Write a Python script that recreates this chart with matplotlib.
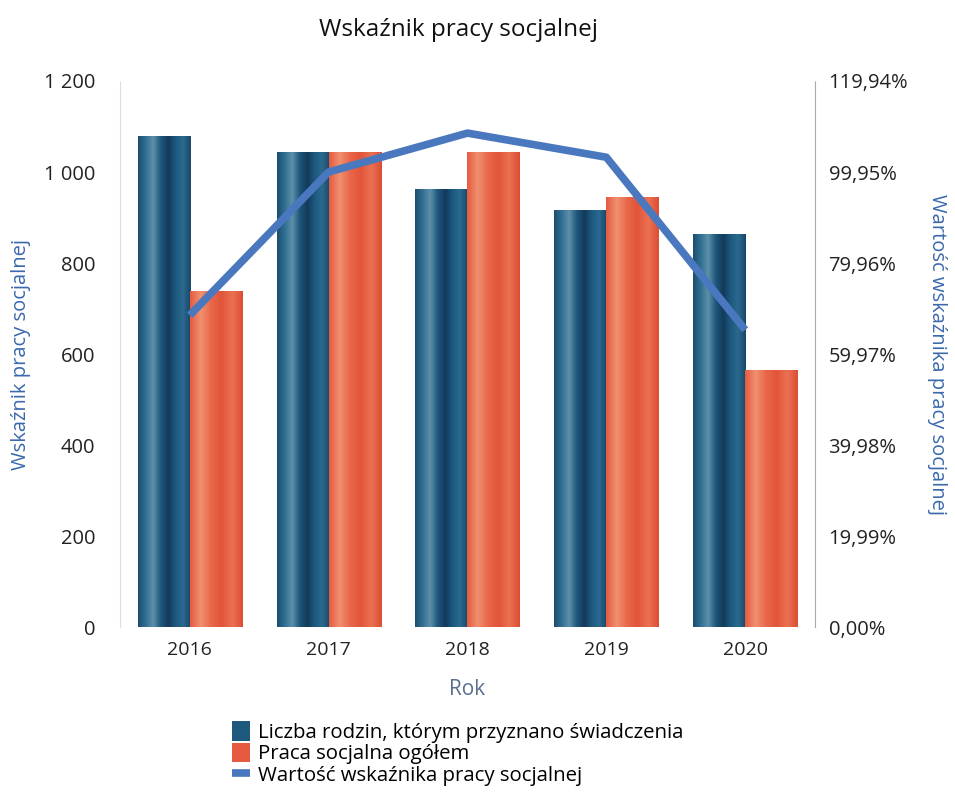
import numpy as np
import matplotlib
matplotlib.use("Agg")
import matplotlib.pyplot as plt
from matplotlib.colors import LinearSegmentedColormap
from matplotlib.ticker import FixedLocator, FuncFormatter

plt.rcParams['font.family'] = ['Open Sans', 'DejaVu Sans']

years = ['2016', '2017', '2018', '2019', '2020']
families = [1077, 1042, 960, 914, 862]
social_work = [738, 1042, 1042, 943, 563]
indicator = [68.5, 99.95, 108.5, 103.2, 65.3]

left_ticks = [0, 200, 400, 600, 800, 1000, 1200]
right_ticks = [0.00, 19.99, 39.98, 59.97, 79.96, 99.95, 119.94]

fig = plt.figure(figsize=(9.55, 7.94), dpi=100)
ax = fig.add_axes([0.126, 0.21, 0.727, 0.688])
ax2 = ax.twinx()

x = np.arange(len(years))
w = 0.375

blue_cmap = LinearSegmentedColormap.from_list('b', ['#1c4d6e', '#2f6f93', '#5f8fa8', '#1f587d', '#123a5c', '#1d5a80', '#2a6a8e', '#17466a'])
red_cmap = LinearSegmentedColormap.from_list('r', ['#e65a40', '#f0906f', '#e8674a', '#e2553a', '#ea7152', '#dd4d33'])

bars1 = ax.bar(x - w / 2, families, w, color='#1f587d', label='Liczba rodzin, którym przyznano świadczenia', zorder=2)
bars2 = ax.bar(x + w / 2, social_work, w, color='#e65a40', label='Praca socjalna ogółem', zorder=2)

grad = np.linspace(0, 1, 256).reshape(1, -1)
for bars, cmap in ((bars1, blue_cmap), (bars2, red_cmap)):
    for b in bars:
        x0, y0 = b.get_x(), b.get_y()
        ax.imshow(grad, cmap=cmap, aspect='auto', extent=(x0, x0 + b.get_width(), y0, y0 + b.get_height()), zorder=2.5)

ax.set_xlim(-0.5, len(years) - 0.5)
ax.set_ylim(0, 1200)
ax.yaxis.set_major_locator(FixedLocator(left_ticks))
ax.yaxis.set_major_formatter(FuncFormatter(lambda v, p: f"{int(v):,}".replace(',', ' ')))
ax.set_xticks(x)
ax.set_xticklabels(years)

ax2.plot(x, indicator, color='#4a78be', linewidth=5.5, solid_capstyle='butt', label='Wartość wskaźnika pracy socjalnej', zorder=5)
ax2.set_ylim(0, 119.94)
ax2.yaxis.set_major_locator(FixedLocator(right_ticks))
ax2.yaxis.set_major_formatter(FuncFormatter(lambda v, p: f"{v:.2f}%".replace('.', ',')))

for a in (ax, ax2):
    for s in a.spines.values():
        s.set_visible(False)
    a.tick_params(length=0, labelsize=14.5, colors='#222222')
ax.tick_params(axis='x', labelsize=14, pad=10)
ax.tick_params(axis='y', pad=18)
ax2.tick_params(axis='y', pad=10)
ax2.spines['right'].set_visible(True)
ax2.spines['right'].set_color('#aaaaaa')
ax2.spines['right'].set_linestyle((0, (1, 1)))
ax2.spines['right'].set_linewidth(0.8)
ax.spines['left'].set_visible(True)
ax.spines['left'].set_color('#dddddd')
ax.spines['left'].set_linestyle((0, (1, 1)))
ax.spines['left'].set_linewidth(0.8)

ax.set_ylabel('Wskaźnik pracy socjalnej', color='#3a68ad', fontsize=14.5, labelpad=9)
ax2.set_ylabel('Wartość wskaźnika pracy socjalnej', color='#3a68ad', fontsize=14.5, rotation=270, labelpad=28)
ax.set_xlabel('Rok', color='#5a6f8f', fontsize=15, labelpad=14)

fig.suptitle('Wskaźnik pracy socjalnej', x=0.48, y=0.977, fontsize=17.5, color='#111111')

h1, l1 = ax.get_legend_handles_labels()
h2, l2 = ax2.get_legend_handles_labels()
fig.legend(h1 + h2, l1 + l2, loc='upper left', bbox_to_anchor=(0.243, 0.092), frameon=False,
           fontsize=14.7, handlelength=0.9, handleheight=1.1, handletextpad=0.35, labelspacing=0.0,
           borderaxespad=0, borderpad=0)

fig.savefig('out.png', dpi=100)
